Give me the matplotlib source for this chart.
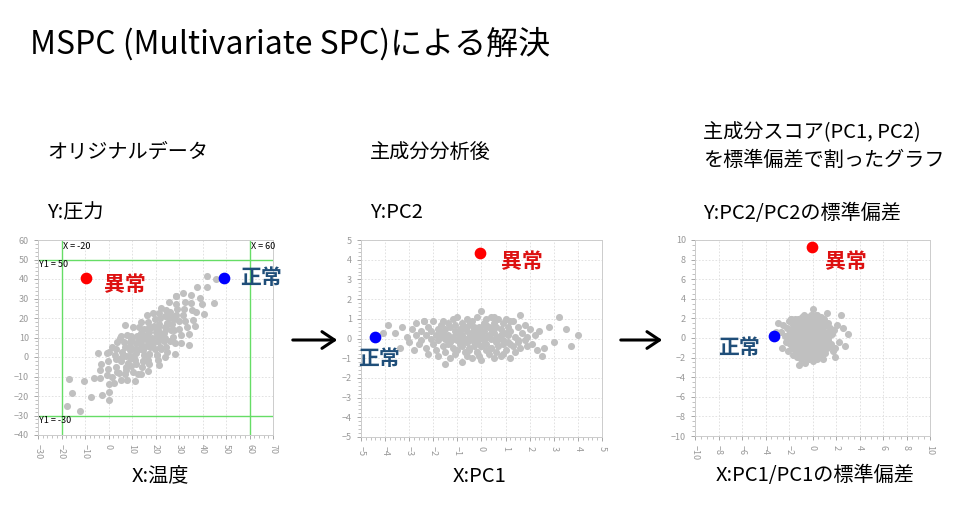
import matplotlib
matplotlib.use("Agg")
import matplotlib.pyplot as plt
import numpy as np

plt.rcParams['font.family'] = ['Noto Sans CJK JP', 'DejaVu Sans']

# PCA scores of the normal operating data
pc1 = [-3.6,-3.4,-3.3,-3.1,-3.0,-2.9,-2.8,-2.7,-2.7,-2.6,-2.5,-2.5,-2.4,-2.3,-2.3,-2.2,-2.2,-2.1,-2.1,-2.0,
       -2.0,-1.9,-1.9,-1.8,-1.8,-1.8,-1.7,-1.7,-1.6,-1.6,-1.6,-1.5,-1.5,-1.5,-1.4,-1.4,-1.4,-1.3,-1.3,-1.3,
       -1.2,-1.2,-1.2,-1.1,-1.1,-1.1,-1.0,-1.0,-1.0,-1.0,-0.9,-0.9,-0.9,-0.8,-0.8,-0.8,-0.8,-0.7,-0.7,-0.7,
       -0.6,-0.6,-0.6,-0.6,-0.5,-0.5,-0.5,-0.4,-0.4,-0.4,-0.4,-0.3,-0.3,-0.3,-0.2,-0.2,-0.2,-0.2,-0.1,-0.1,
       -0.1, 0.0, 0.0, 0.0, 0.0, 0.1, 0.1, 0.1, 0.2, 0.2, 0.2, 0.2, 0.3, 0.3, 0.3, 0.4, 0.4, 0.4, 0.4, 0.5,
        0.5, 0.5, 0.6, 0.6, 0.6, 0.7, 0.7, 0.7, 0.8, 0.8, 0.8, 0.9, 0.9, 0.9, 1.0, 1.0, 1.0, 1.1, 1.1, 1.2,
        1.2, 1.3, 1.3, 1.4, 1.4, 1.5, 1.5, 1.6, 1.6, 1.7, 1.8, 1.8, 1.9, 2.0, 2.1, 2.2, 2.3, 2.4, 2.6, 2.8,
        3.0, 3.2, 3.5, 3.7, 4.0, -3.9, -4.1, 1.2, -1.5, 0.5, -0.3, 0.9, -2.4, 2.5, 1.9, -0.8, 0.2, -1.1, 0.6,
       -1.2,-0.9,-0.6,-0.3, 0.0, 0.3, 0.6, 0.9, 1.2,-0.1,-0.5,-0.8, 0.4, 0.7, 1.1,-1.4, 1.5,-1.7, 0.1,-0.2]
pc2 = [ 0.3,-0.5, 0.6, 0.1,-0.2, 0.5,-0.6, 0.2, 0.8,-0.3, 0.4,-0.1, 0.9,-0.5, 0.2, 0.6,-0.8, 0.0, 0.4,-0.3,
        0.9, 0.2,-0.6, 0.5,-0.1,-0.9, 0.7, 0.1,-0.4, 0.3, 0.9,-0.7, 0.0, 0.5,-0.3, 0.8, 0.2,-1.0,-0.2, 0.6,
        1.0, 0.1,-0.5, 0.4,-0.8, 0.7,-0.1, 0.3,-0.6, 1.1, 0.5,-0.3, 0.0, 0.8,-1.2,-0.4, 0.2, 0.6,-0.7, 0.0,
        1.0,-0.2, 0.4,-0.9, 0.7, 0.1,-0.5, 0.9,-0.1,-1.0, 0.3, 0.6,-0.4, 0.1, 1.1,-0.7, 0.3,-0.2, 0.5,-0.9,
        0.0, 1.4, 0.2,-0.4,-1.1, 0.8,-0.1, 0.4, 1.0,-0.6, 0.1,-0.3, 0.6,-0.8, 0.2, 1.1, 0.0,-0.5, 0.5,-1.0,
        0.3, 0.8,-0.2, 0.6,-0.7, 1.0, 0.1,-0.4, 0.5,-0.9, 0.2, 0.8,-0.3,-0.1, 1.0, 0.3,-0.6, 0.6,-0.2,-1.0,
        0.4, 0.9,-0.4, 0.1,-0.7, 0.6,-0.2, 1.2,-0.5, 0.3,-0.1, 0.7,-0.4, 0.5,-0.3, 0.2,-0.6, 0.4,-0.5, 0.6,
       -0.2, 1.1, 0.5,-0.4, 0.2, 0.7, 0.3, 0.9,-1.3, 1.1, 0.5,-0.8, 0.9,-0.9, 0.1,-0.2, 0.7,-0.6, 0.0,
        0.0, 0.2,-0.2, 0.4,-0.4, 0.1,-0.1, 0.3,-0.3, 0.6,-0.6, 0.5,-0.5, 0.0, 0.2, 0.1,-0.1, 0.3, 0.7,-0.7]

# anomaly / normal sample points
abn_pc = (-0.05, 4.35)
nor_pc = (-4.4, 0.1)
pc1_std = 1.33
pc2_std = 0.47

# original space (temperature, pressure) reconstruction
mean_x, mean_y = 15.0, 5.0
load1 = (-7.9, -7.9)
load2 = (-5.75, 8.05)

def to_orig(p1, p2):
    p1 = np.asarray(p1); p2 = np.asarray(p2)
    return mean_x + load1[0]*p1 + load2[0]*p2, mean_y + load1[1]*p1 + load2[1]*p2

W, H = 967, 517
fig = plt.figure(figsize=(W/100, H/100), dpi=100)

def style(ax, xlim, ylim, xmaj, ymaj, xminor, yminor):
    ax.set_xlim(xlim); ax.set_ylim(ylim)
    ax.set_xticks(np.arange(xlim[0], xlim[1]+0.001, xmaj))
    ax.set_yticks(np.arange(ylim[0], ylim[1]+0.001, ymaj))
    ax.set_xticks(np.arange(xlim[0], xlim[1]+0.001, xminor), minor=True)
    ax.set_yticks(np.arange(ylim[0], ylim[1]+0.001, yminor), minor=True)
    ax.tick_params(labelsize=6.5, colors='#999999', length=3, width=0.6)
    ax.tick_params(which='minor', length=2, colors='#aaaaaa', width=0.5)
    for l in ax.get_xticklabels():
        l.set_rotation(-90)
    for s in ax.spines.values():
        s.set_color('#cccccc'); s.set_linewidth(0.7)
    ax.grid(True, ls=(0, (2, 2)), color='#dddddd', lw=0.6)
    ax.set_axisbelow(True)

def axpix(l, r, t, b):
    return fig.add_axes([l/W, 1-b/H, (r-l)/W, (b-t)/H])

gray = '#c0c0c0'
ms = 26
# Panel 1
ax1 = axpix(38, 273, 240, 435)
style(ax1, (-30, 70), (-40, 60), 10, 10, 2, 2)
ox, oy = to_orig(pc1, pc2)
ax1.scatter(ox, oy, s=ms, color=gray, zorder=2, linewidths=0)
for v in (-20, 60):
    ax1.axvline(v, color='#66dd66', lw=1)
for v in (50, -30):
    ax1.axhline(v, color='#66dd66', lw=1)
ax1.text(-19.5, 59, 'X = -20', fontsize=6.5, va='top')
ax1.text(60.5, 59, 'X = 60', fontsize=6.5, va='top')
ax1.text(-29.5, 49.5, 'Y1 = 50', fontsize=6.5, va='top')
ax1.text(-29.5, -30.5, 'Y1 = -30', fontsize=6.5, va='top')
ax, ay = to_orig(*abn_pc)
nx, ny = to_orig(*nor_pc)
ax1.scatter([ax], [ay], s=55, color='#ff0000', zorder=3)
ax1.scatter([nx], [ny], s=55, color='#0000ff', zorder=3)
ax1.text(-2, 37, '異常', color='#dd1111', fontsize=15, fontweight='bold', va='center', clip_on=False)
ax1.text(56, 41, '正常', color='#1f4e79', fontsize=15, fontweight='bold', va='center', clip_on=False)

# Panel 2
ax2 = axpix(361, 602, 240, 437)
style(ax2, (-5, 5), (-5, 5), 1, 1, 0.2, 0.2)
ax2.scatter(pc1, pc2, s=ms, color=gray, zorder=2, linewidths=0)
ax2.scatter([abn_pc[0]], [abn_pc[1]], s=55, color='#ff0000', zorder=3)
ax2.scatter([nor_pc[0]], [nor_pc[1]], s=55, color='#0000ff', zorder=3)
ax2.text(0.8, 3.9, '異常', color='#dd1111', fontsize=15, fontweight='bold', va='center')
ax2.text(-5.1, -1.0, '正常', color='#1f4e79', fontsize=15, fontweight='bold', va='center', clip_on=False)

# Panel 3
ax3 = axpix(695, 930, 240, 436)
style(ax3, (-10, 10), (-10, 10), 2, 2, 0.5, 0.5)
ax3.scatter(np.array(pc1)/pc1_std, np.array(pc2)/pc2_std, s=ms, color=gray, zorder=2, linewidths=0)
ax3.scatter([abn_pc[0]/pc1_std], [abn_pc[1]/pc2_std], s=55, color='#ff0000', zorder=3)
ax3.scatter([nor_pc[0]/pc1_std], [nor_pc[1]/pc2_std], s=55, color='#0000ff', zorder=3)
ax3.text(1.1, 7.8, '異常', color='#dd1111', fontsize=15, fontweight='bold', va='center')
ax3.text(-8.0, -1.0, '正常', color='#1f4e79', fontsize=15, fontweight='bold', va='center')

def ftxt(x, y, s, size=14.5, ha='left'):
    fig.text(x/W, 1-y/H, s, fontsize=size, ha=ha, va='center')

ftxt(30, 44, 'MSPC (Multivariate SPC)による解決', size=23)
ftxt(47, 152, 'オリジナルデータ')
ftxt(47, 213, 'Y:圧力')
ftxt(160, 476, 'X:温度', ha='center')
ftxt(370, 152, '主成分分析後')
ftxt(370, 213, 'Y:PC2')
ftxt(480, 476, 'X:PC1', ha='center')
ftxt(703, 133, '主成分スコア(PC1, PC2)')
ftxt(703, 160, 'を標準偏差で割ったグラフ')
ftxt(703, 213, 'Y:PC2/PC2の標準偏差')
ftxt(815, 476, 'X:PC1/PC1の標準偏差', ha='center')

for x0, x1 in ((290, 340), (618, 665)):
    fig.patches.append(matplotlib.patches.FancyArrowPatch(
        (x0/W, 1-340/H), (x1/W, 1-340/H), transform=fig.transFigure,
        arrowstyle='->,head_length=6,head_width=4', lw=2.2, color='black', mutation_scale=1.5))

fig.savefig('out.png', dpi=100)
